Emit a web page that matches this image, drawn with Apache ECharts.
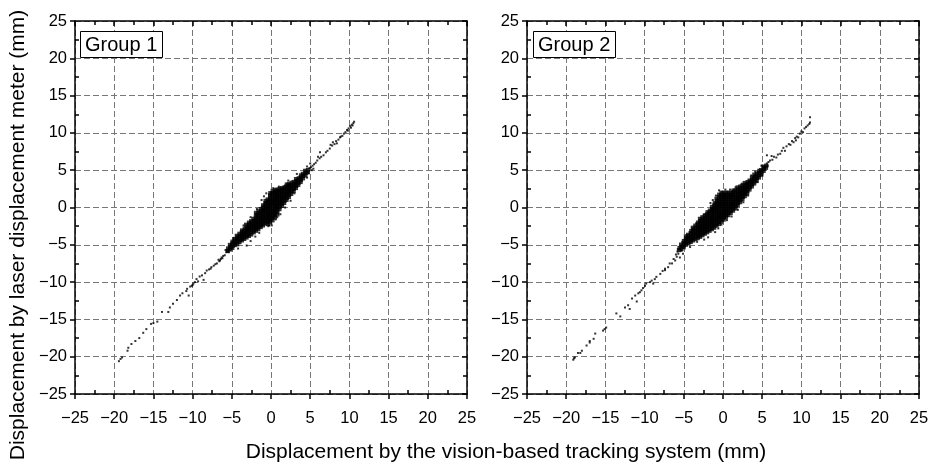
<!DOCTYPE html>
<html>
<head>
<meta charset="utf-8">
<script src="https://cdn.jsdelivr.net/npm/echarts@6/dist/echarts.min.js"></script>
<style>html,body{margin:0;padding:0;background:#fff}#c{width:935px;height:469px}</style>
</head>
<body>
<div id="c"></div>
<script>
// ---- data ----
const panelTitles = ['Group 1', 'Group 2'];
const xTitle = 'Displacement by the vision-based tracking system (mm)';
const yTitle = 'Displacement by laser displacement meter (mm)';
const axisMin = -25, axisMax = 25, axisStep = 5;

const g1Core = [
[-5.52,-5.81],[-5.47,-5.49],[-5.21,-5.63],[-5.18,-5.32],[-5.24,-5.02],
[-4.93,-5.41],[-4.88,-5.12],[-4.95,-4.83],[-4.91,-4.58],
[-4.62,-5.04],[-4.57,-4.79],[-4.66,-4.51],[-4.59,-4.22],
[-4.31,-4.93],[-4.27,-4.62],[-4.34,-4.31],[-4.29,-4.02],[-4.36,-3.79],
[-4.02,-4.64],[-3.97,-4.33],[-4.05,-4.08],[-3.99,-3.81],[-4.03,-3.52],
[-3.71,-4.41],[-3.68,-4.12],[-3.74,-3.88],[-3.66,-3.61],[-3.72,-3.33],[-3.69,-3.08],
[-3.42,-4.21],[-3.38,-3.93],[-3.44,-3.62],[-3.37,-3.41],[-3.41,-3.12],[-3.35,-2.83],
[-3.12,-4.02],[-3.08,-3.71],[-3.15,-3.43],[-3.05,-3.12],[-3.11,-2.84],[-3.02,-2.57],[-3.18,-2.31],
[-2.82,-3.81],[-2.77,-3.52],[-2.85,-3.23],[-2.79,-2.91],[-2.83,-2.62],[-2.76,-2.31],[-2.81,-2.03],
[-2.52,-3.62],[-2.48,-3.31],[-2.55,-3.02],[-2.47,-2.71],[-2.51,-2.42],[-2.46,-2.12],[-2.53,-1.83],
[-2.21,-3.33],[-2.18,-3.04],[-2.24,-2.72],[-2.17,-2.43],[-2.22,-2.11],[-2.19,-1.82],[-2.25,-1.52],
[-1.91,-3.12],[-1.88,-2.81],[-1.94,-2.52],[-1.87,-2.21],[-1.92,-1.93],[-1.89,-1.62],[-1.95,-1.31],[-1.86,-1.02],[-1.92,-0.72],
[-1.62,-2.91],[-1.58,-2.62],[-1.64,-2.31],[-1.57,-2.02],[-1.61,-1.71],[-1.59,-1.42],[-1.65,-1.11],[-1.56,-0.82],[-1.61,-0.52],
[-1.31,-2.62],[-1.28,-2.33],[-1.34,-2.02],[-1.27,-1.71],[-1.32,-1.42],[-1.29,-1.13],[-1.35,-0.82],[-1.26,-0.51],[-1.32,-0.21],
[-1.02,-2.41],[-0.98,-2.12],[-1.04,-1.81],[-0.97,-1.52],[-1.01,-1.21],[-0.99,-0.92],[-1.05,-0.61],[-0.96,-0.32],[-1.03,-0.02],[-1.01,0.29],
[-0.72,-2.13],[-0.68,-1.82],[-0.74,-1.51],[-0.67,-1.22],[-0.71,-0.91],[-0.69,-0.62],[-0.75,-0.31],[-0.66,-0.01],[-0.73,0.28],[-0.71,0.59],[-0.69,0.88],
[-0.42,-1.92],[-0.38,-1.61],[-0.44,-1.32],[-0.37,-1.01],[-0.41,-0.72],[-0.39,-0.41],[-0.45,-0.12],[-0.36,0.19],[-0.43,0.48],[-0.38,0.79],[-0.42,1.08],[-0.41,-2.22],
[-0.12,-1.71],[-0.08,-1.42],[-0.14,-1.11],[-0.07,-0.82],[-0.11,-0.52],[-0.09,-0.21],[-0.15,0.09],[-0.06,0.41],[-0.13,0.72],[-0.08,1.01],[-0.11,1.32],[-0.12,1.63],[-0.09,1.92],[-0.11,-2.01],
[0.18,-1.41],[0.22,-1.12],[0.16,-0.81],[0.23,-0.52],[0.19,-0.22],[0.21,0.11],[0.15,0.42],[0.24,0.71],[0.17,1.02],[0.22,1.31],[0.19,1.62],[0.18,1.93],[0.21,2.22],[0.19,-1.72],
[0.48,-1.02],[0.52,-0.71],[0.46,-0.42],[0.53,-0.11],[0.49,0.22],[0.51,0.51],[0.45,0.82],[0.54,1.11],[0.47,1.42],[0.52,1.71],[0.49,2.01],[0.51,2.31],[0.49,-1.31],
[0.78,-0.61],[0.82,-0.31],[0.76,0.02],[0.83,0.31],[0.79,0.62],[0.81,0.91],[0.75,1.22],[0.84,1.51],[0.77,1.82],[0.79,2.12],[0.81,2.41],[0.82,-0.93],
[1.08,-0.22],[1.12,0.11],[1.06,0.42],[1.13,0.71],[1.09,1.02],[1.11,1.31],[1.05,1.62],[1.14,1.91],[1.07,2.21],[1.11,2.49],
[1.38,0.21],[1.42,0.52],[1.36,0.81],[1.43,1.12],[1.39,1.41],[1.41,1.72],[1.35,2.01],[1.44,2.32],[1.39,2.61],
[1.68,0.62],[1.72,0.91],[1.66,1.22],[1.73,1.51],[1.69,1.82],[1.71,2.11],[1.65,2.42],[1.74,2.71],
[1.98,1.02],[2.02,1.31],[1.96,1.62],[2.03,1.91],[1.99,2.22],[2.01,2.51],[1.95,2.82],[2.02,3.08],
[2.28,1.41],[2.32,1.72],[2.26,2.01],[2.33,2.32],[2.29,2.61],[2.31,2.92],[2.25,3.12],
[2.58,1.82],[2.62,2.11],[2.56,2.42],[2.63,2.71],[2.59,3.02],[2.61,3.31],
[2.88,2.22],[2.92,2.51],[2.86,2.82],[2.93,3.11],[2.89,3.42],
[3.18,2.61],[3.22,2.92],[3.16,3.21],[3.23,3.52],[3.19,3.81],
[3.48,3.02],[3.52,3.31],[3.46,3.62],[3.53,3.91],
[3.78,3.42],[3.82,3.71],[3.76,4.02],[3.83,4.31],
[4.08,3.91],[4.12,4.22],[4.06,4.51],
[4.38,4.32],[4.42,4.61],[4.36,4.92],
[4.68,4.72],[4.72,5.01]
];

const g1Sparse = [
[-19.4,-20.6],[-19.2,-20.3],[-19.0,-20.1],[-18.3,-19.2],[-18.2,-18.8],[-17.8,-18.3],[-17.3,-17.9],[-16.8,-17.5],
[-16.3,-16.8],[-15.9,-16.3],[-15.3,-15.6],[-15.0,-15.5],[-14.5,-15.3],[-13.9,-14.0],[-13.1,-14.0],[-12.9,-13.4],
[-12.5,-12.9],[-12.0,-12.4],[-11.6,-11.8],[-11.3,-11.5],[-10.8,-11.2],[-10.5,-11.8],[-10.7,-10.9],[-10.3,-10.6],
[-10.1,-10.5],[-9.9,-10.2],[-10.0,-10.4],[-9.7,-10.0],[-9.5,-9.6],[-9.3,-9.9],[-9.1,-9.25],[-8.8,-9.1],[-8.6,-9.7],
[-8.4,-8.8],[-8.2,-8.45],[-7.9,-8.3],[-7.7,-8.2],[-7.6,-8.0],[-7.3,-7.8],[-7.1,-7.6],[-6.9,-7.5],[-6.7,-7.0],
[-6.6,-7.2],[-6.5,-7.1],[-6.4,-6.9],[-6.3,-6.7],[-6.2,-6.8],[-6.1,-6.5],[-5.9,-6.4],[-5.8,-5.7],[-5.7,-6.0],
[-5.6,-5.9],[-5.4,-6.0],[-5.3,-5.7],
[4.9,5.3],[5.1,5.4],[5.3,5.6],[5.0,5.9],[5.5,5.8],[5.7,6.0],[5.9,6.3],[6.2,6.6],[6.25,7.4],[6.4,6.8],[6.7,7.0],
[7.0,7.4],[7.2,7.6],[7.5,7.9],[7.8,8.3],[7.9,8.75],[8.1,8.5],[8.3,8.9],[8.6,9.1],[8.4,8.6],[8.8,9.4],[8.9,9.5],
[9.1,9.6],[9.3,9.9],[9.5,10.1],[9.7,10.4],[9.9,10.6],[10.1,10.9],[10.3,11.1],[10.5,11.3],[10.6,11.5],[10.4,11.0],
[10.2,10.7],[9.8,10.3],[7.6,8.4],[6.0,6.8],[5.4,5.2],[4.6,5.5],[4.8,4.6],[5.2,5.0],
[-3.1,-5.1],[-2.6,-4.5],[-2.0,-3.9],[-1.5,-3.4],[-0.35,-2.5],[0.1,-2.4],[0.6,-1.6],[1.2,-0.9],[0.8,-1.3],
[-1.2,1.0],[-0.9,1.5],[-0.6,1.9],[-1.8,-0.2],[-2.6,-1.3],[-3.5,-2.4],[2.5,0.9],[1.8,0.0],[3.3,4.5],[2.2,3.6],
[4.6,4.0],[3.0,1.9],[-4.2,-5.5],[-4.8,-4.1],[0.3,2.6],[1.0,2.8],[-0.2,-2.4]
];

const g2Core = [
[-5.62,-5.71],[-5.55,-5.42],[-5.31,-5.58],[-5.27,-5.24],[-5.35,-4.97],
[-5.02,-5.33],[-4.97,-5.05],[-5.05,-4.76],[-4.99,-4.49],
[-4.72,-4.98],[-4.68,-4.71],[-4.75,-4.42],[-4.69,-4.13],[-4.73,-3.86],
[-4.41,-4.81],[-4.37,-4.52],[-4.44,-4.21],[-4.39,-3.93],[-4.46,-3.66],
[-4.11,-4.62],[-4.07,-4.31],[-4.14,-4.03],[-4.09,-3.72],[-4.13,-3.43],[-4.05,-3.15],
[-3.81,-4.42],[-3.78,-4.11],[-3.84,-3.82],[-3.76,-3.52],[-3.82,-3.23],[-3.79,-2.94],[-3.85,-2.71],
[-3.52,-4.23],[-3.48,-3.92],[-3.55,-3.63],[-3.47,-3.32],[-3.51,-3.03],[-3.46,-2.72],[-3.53,-2.43],
[-3.22,-4.11],[-3.18,-3.81],[-3.25,-3.52],[-3.17,-3.21],[-3.21,-2.92],[-3.16,-2.61],[-3.23,-2.32],[-3.19,-2.02],
[-2.92,-3.93],[-2.88,-3.62],[-2.95,-3.31],[-2.87,-3.02],[-2.91,-2.71],[-2.86,-2.42],[-2.93,-2.11],[-2.89,-1.82],[-2.94,-1.52],
[-2.62,-3.72],[-2.58,-3.41],[-2.65,-3.12],[-2.57,-2.81],[-2.61,-2.52],[-2.56,-2.21],[-2.63,-1.92],[-2.59,-1.61],[-2.64,-1.31],
[-2.32,-3.51],[-2.28,-3.22],[-2.35,-2.91],[-2.27,-2.62],[-2.31,-2.31],[-2.26,-2.02],[-2.33,-1.71],[-2.29,-1.42],[-2.34,-1.11],
[-2.02,-3.32],[-1.98,-3.01],[-2.05,-2.72],[-1.97,-2.41],[-2.01,-2.12],[-1.96,-1.81],[-2.03,-1.52],[-1.99,-1.21],[-2.04,-0.92],[-1.97,-0.63],
[-1.72,-3.12],[-1.68,-2.81],[-1.75,-2.52],[-1.67,-2.21],[-1.71,-1.92],[-1.66,-1.61],[-1.73,-1.32],[-1.69,-1.01],[-1.74,-0.72],[-1.67,-0.42],
[-1.42,-2.91],[-1.38,-2.62],[-1.45,-2.31],[-1.37,-2.02],[-1.41,-1.71],[-1.36,-1.42],[-1.43,-1.11],[-1.39,-0.82],[-1.44,-0.51],[-1.37,-0.22],[-1.41,0.08],
[-1.12,-2.71],[-1.08,-2.42],[-1.15,-2.11],[-1.07,-1.82],[-1.11,-1.51],[-1.06,-1.22],[-1.13,-0.91],[-1.09,-0.62],[-1.14,-0.31],[-1.07,-0.02],[-1.11,0.29],[-1.05,0.58],
[-0.82,-2.42],[-0.78,-2.13],[-0.85,-1.82],[-0.77,-1.51],[-0.81,-1.22],[-0.76,-0.91],[-0.83,-0.62],[-0.79,-0.31],[-0.84,-0.02],[-0.77,0.29],[-0.81,0.58],[-0.76,0.89],[-0.83,1.18],
[-0.52,-2.21],[-0.48,-1.92],[-0.55,-1.61],[-0.47,-1.32],[-0.51,-1.01],[-0.46,-0.72],[-0.53,-0.41],[-0.49,-0.12],[-0.54,0.19],[-0.47,0.48],[-0.51,0.79],[-0.46,1.08],[-0.53,1.39],[-0.49,1.72],
[-0.22,-1.91],[-0.18,-1.62],[-0.25,-1.31],[-0.17,-1.02],[-0.21,-0.71],[-0.16,-0.42],[-0.23,-0.11],[-0.19,0.18],[-0.24,0.49],[-0.17,0.78],[-0.21,1.09],[-0.16,1.38],[-0.23,1.69],[-0.19,1.98],
[0.08,-1.62],[0.12,-1.31],[0.05,-1.02],[0.13,-0.71],[0.09,-0.42],[0.14,-0.11],[0.07,0.18],[0.11,0.49],[0.06,0.78],[0.13,1.09],[0.09,1.38],[0.14,1.69],[0.07,1.98],
[0.38,-1.31],[0.42,-1.02],[0.35,-0.71],[0.43,-0.42],[0.39,-0.11],[0.44,0.18],[0.37,0.49],[0.41,0.78],[0.36,1.09],[0.43,1.38],[0.39,1.69],[0.44,1.98],
[0.68,-1.02],[0.72,-0.71],[0.65,-0.42],[0.73,-0.11],[0.69,0.18],[0.74,0.49],[0.67,0.78],[0.71,1.09],[0.66,1.38],[0.73,1.69],[0.69,1.98],
[0.98,-0.72],[1.02,-0.41],[0.95,-0.12],[1.03,0.19],[0.99,0.48],[1.04,0.79],[0.97,1.08],[1.01,1.39],[0.96,1.68],[1.03,1.99],
[1.28,-0.42],[1.32,-0.11],[1.25,0.18],[1.33,0.49],[1.29,0.78],[1.34,1.09],[1.27,1.38],[1.31,1.69],[1.26,1.98],[1.33,2.27],
[1.58,-0.12],[1.62,0.19],[1.55,0.48],[1.63,0.79],[1.59,1.08],[1.64,1.39],[1.57,1.68],[1.61,1.99],[1.56,2.28],
[1.88,0.32],[1.92,0.61],[1.85,0.92],[1.93,1.21],[1.89,1.52],[1.94,1.81],[1.87,2.12],[1.91,2.41],[1.86,2.69],
[2.18,0.72],[2.22,1.01],[2.15,1.32],[2.23,1.61],[2.19,1.92],[2.24,2.21],[2.17,2.52],[2.21,2.81],
[2.48,1.12],[2.52,1.41],[2.45,1.72],[2.53,2.01],[2.49,2.32],[2.54,2.61],[2.47,2.92],
[2.78,1.52],[2.82,1.81],[2.75,2.12],[2.83,2.41],[2.79,2.72],[2.84,3.01],[2.77,3.29],
[3.08,1.92],[3.12,2.21],[3.05,2.52],[3.13,2.81],[3.09,3.12],[3.14,3.41],
[3.38,2.41],[3.42,2.72],[3.35,3.01],[3.43,3.32],[3.39,3.61],
[3.68,2.82],[3.72,3.11],[3.65,3.42],[3.73,3.71],[3.69,4.01],
[3.98,3.22],[4.02,3.51],[3.95,3.82],[4.03,4.11],[3.99,4.41],
[4.28,3.61],[4.32,3.92],[4.25,4.21],[4.33,4.52],
[4.58,4.02],[4.62,4.31],[4.55,4.62],[4.63,4.91],
[4.88,4.42],[4.92,4.71],[4.85,5.02],
[5.18,4.91],[5.22,5.21],[5.15,5.49],
[5.48,5.32],[5.52,5.61]
];

const g2Sparse = [
[-19.1,-20.4],[-19.0,-20.2],[-18.9,-20.1],[-18.5,-19.5],[-18.2,-19.5],[-18.0,-19.2],[-17.4,-18.5],[-17.0,-18.1],
[-17.0,-17.9],[-16.5,-17.6],[-16.3,-16.9],[-15.3,-16.5],[-15.1,-16.3],[-14.9,-16.1],[-13.6,-14.2],[-13.1,-14.6],
[-12.5,-13.4],[-12.1,-13.1],[-11.9,-13.6],[-11.6,-12.2],[-11.2,-11.8],[-11.0,-12.6],[-10.8,-11.5],[-10.6,-11.35],
[-10.4,-11.1],[-10.2,-10.8],[-9.95,-10.5],[-9.8,-10.2],[-9.3,-10.0],[-9.1,-9.8],[-8.9,-10.2],[-8.7,-9.6],[-8.5,-9.3],
[-8.0,-8.9],[-7.7,-8.5],[-7.4,-8.4],[-7.4,-8.2],[-7.0,-8.0],[-6.8,-7.5],[-6.5,-7.5],[-6.3,-6.9],[-6.1,-7.1],
[-5.9,-6.6],[-5.7,-6.2],[-5.5,-6.7],[-5.3,-5.8],[-5.1,-6.2],[-6.0,-6.3],[-5.8,-5.9],
[4.9,5.6],[5.6,5.9],[5.6,7.0],[5.8,6.1],[6.0,6.3],[6.3,6.4],[6.5,6.8],[6.8,6.7],[7.0,7.1],[7.3,7.2],[7.5,7.6],
[7.9,7.6],[8.1,8.2],[8.4,8.5],[8.6,8.4],[8.8,8.9],[9.0,8.75],[9.2,9.3],[9.4,9.5],[9.6,9.4],[9.8,9.9],[10.0,10.2],
[10.2,10.1],[10.4,10.6],[10.6,10.8],[10.8,11.0],[11.0,11.2],[11.1,11.4],[11.1,12.1],[5.3,5.5],[5.7,5.6],[6.2,6.9],
[7.7,8.0],[9.3,9.0],
[-1.9,-4.0],[-1.0,-3.3],[-0.2,-2.3],[-0.6,-2.8],[0.5,-1.7],[1.1,-1.2],[-2.4,-4.3],[-3.3,-4.6],[-4.2,-5.3],
[-1.6,0.6],[-1.3,1.0],[-0.9,1.6],[-0.5,2.3],[0.3,2.4],[0.9,2.4],[1.6,2.7],[2.4,3.2],[3.6,4.3],[4.1,4.8],
[3.2,1.6],[2.6,0.7],[1.9,-0.3],[-2.4,-0.9],[-3.4,-2.1],[4.4,3.4],[5.0,4.3]
];

// ---- chart ----
const FONT = 'Liberation Sans, Arial, sans-serif';
const BLACK = '#000';
const grids = [
  {left: 75, right: 468, top: 21, bottom: 75},
  {left: 527, right: 16, top: 21, bottom: 75}
];
const minusFmt = v => String(v).replace('-', '\u2212');

function baseAxis(g) {
  return {type: 'value', gridIndex: g, min: axisMin, max: axisMax, interval: axisStep};
}
const splitStyle = {show: true, lineStyle: {color: '#777', width: 1, type: [6, 3]}};
const xAxes = [], yAxes = [];
grids.forEach((gr, g) => {
  xAxes.push(Object.assign(baseAxis(g), {
    position: 'bottom',
    axisLine: {show: true, onZero: false, lineStyle: {color: BLACK, width: 1.5}},
    axisTick: {show: true, inside: false, length: 5, lineStyle: {color: BLACK, width: 1.5}},
    minorTick: {show: false},
    axisLabel: {show: true, fontSize: 16.5, color: BLACK, fontFamily: FONT, margin: 16, formatter: minusFmt},
    splitLine: splitStyle
  }));
  xAxes.push(Object.assign(baseAxis(g), {
    position: 'bottom',
    axisLine: {show: false, onZero: false},
    axisTick: {show: false, inside: true},
    minorTick: {show: true, splitNumber: 2, length: 4, lineStyle: {color: BLACK, width: 1.5}},
    axisLabel: {show: false},
    splitLine: {show: false}
  }));
  xAxes.push(Object.assign(baseAxis(g), {
    position: 'top',
    axisLine: {show: true, onZero: false, lineStyle: {color: BLACK, width: 1.5}},
    axisTick: {show: true, inside: true, length: 5, lineStyle: {color: BLACK, width: 1.5}},
    minorTick: {show: true, splitNumber: 2, length: 4, lineStyle: {color: BLACK, width: 1.5}},
    axisLabel: {show: false},
    splitLine: {show: false}
  }));
  yAxes.push(Object.assign(baseAxis(g), {
    position: 'left',
    axisLine: {show: true, onZero: false, lineStyle: {color: BLACK, width: 1.5}},
    axisTick: {show: true, inside: false, length: 5, lineStyle: {color: BLACK, width: 1.5}},
    minorTick: {show: false},
    axisLabel: {show: true, fontSize: 16.5, color: BLACK, fontFamily: FONT, margin: 8, formatter: minusFmt},
    splitLine: splitStyle
  }));
  yAxes.push(Object.assign(baseAxis(g), {
    position: 'left',
    axisLine: {show: false, onZero: false},
    axisTick: {show: false, inside: true},
    minorTick: {show: true, splitNumber: 2, length: 4, lineStyle: {color: BLACK, width: 1.5}},
    axisLabel: {show: false},
    splitLine: {show: false}
  }));
  yAxes.push(Object.assign(baseAxis(g), {
    position: 'right',
    axisLine: {show: true, onZero: false, lineStyle: {color: BLACK, width: 1.5}},
    axisTick: {show: true, inside: true, length: 5, lineStyle: {color: BLACK, width: 1.5}},
    minorTick: {show: true, splitNumber: 2, length: 4, lineStyle: {color: BLACK, width: 1.5}},
    axisLabel: {show: false},
    splitLine: {show: false}
  }));
});

function scatter(data, g, size) {
  return {
    type: 'scatter', xAxisIndex: g * 3, yAxisIndex: g * 3, data: data,
    symbol: 'rect', symbolSize: size, itemStyle: {color: BLACK}, silent: true
  };
}

const titleStyle = {fontSize: 20, fontWeight: 'normal', color: BLACK, fontFamily: FONT};
const boxBase = {top: 31, padding: [4, 5, 3, 5], borderColor: BLACK, borderWidth: 1, backgroundColor: '#fff', textStyle: titleStyle};
const option = {
  backgroundColor: '#fff',
  animation: false,
  title: [
    Object.assign({text: panelTitles[0], left: 80}, boxBase),
    Object.assign({text: panelTitles[1], left: 533}, boxBase)
  ],
  grid: grids,
  xAxis: xAxes,
  yAxis: yAxes,
  series: [
    scatter(g1Core, 0, 4.2), scatter(g1Sparse, 0, 2),
    scatter(g2Core, 1, 4.2), scatter(g2Sparse, 1, 2)
  ],
  graphic: [
    {type: 'text', x: 506, y: 452, silent: true,
     style: {text: xTitle, font: '21px ' + FONT, fill: BLACK, align: 'center', verticalAlign: 'middle'}},
    {type: 'text', x: 18, y: 235, rotation: Math.PI / 2, silent: true,
     style: {text: yTitle, font: '21px ' + FONT, fill: BLACK, align: 'center', verticalAlign: 'middle'}}
  ]
};
const chart = echarts.init(document.getElementById('c'), null, {renderer: 'canvas'});
chart.setOption(option);
</script>
</body>
</html>
